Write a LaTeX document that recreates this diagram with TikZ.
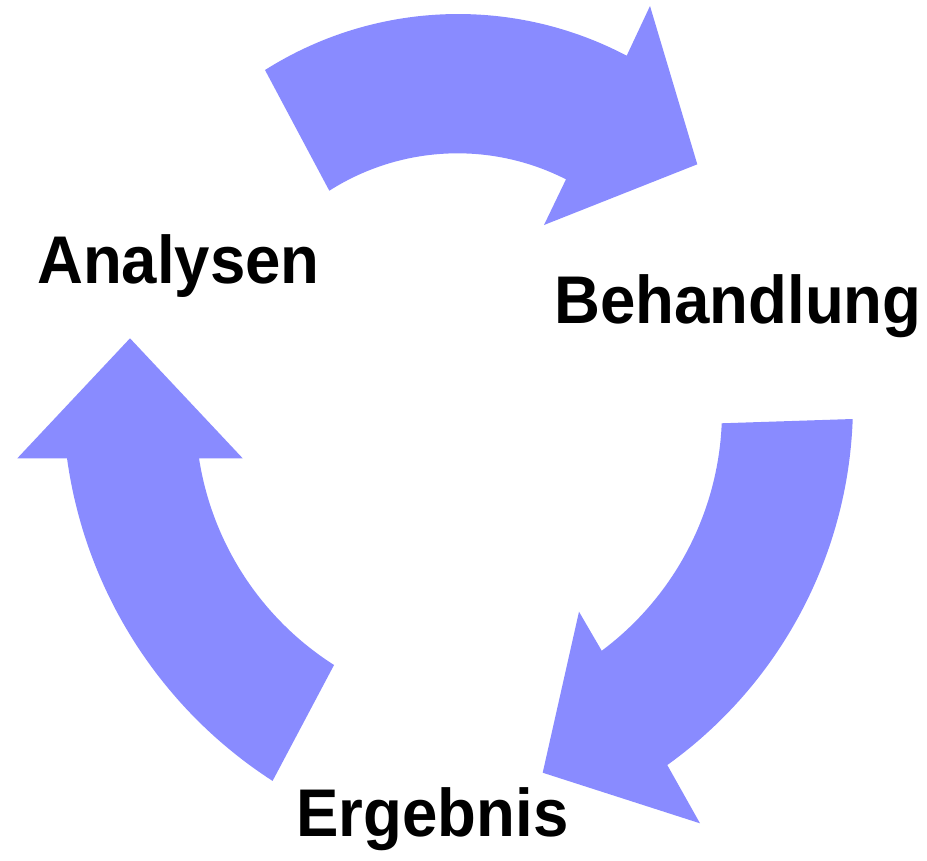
\documentclass[tikz,border=0pt]{standalone}
\usepackage{fontspec}
\usepackage{graphicx}
\setmainfont{Liberation Sans}
\definecolor{cyclefill}{RGB}{137,139,255}
\tikzset{
  cyclearrow/.style={fill=cyclefill, draw=none},
  steplabel/.style={anchor=base, inner sep=0pt, font=\fontsize{38.4}{46}\selectfont\bfseries}
}
\newcommand{\widelabel}[1]{\scalebox{0.942}[1]{#1}}
\begin{document}
% one unit = one pixel, y axis pointing down
\begin{tikzpicture}[x=0.02cm, y=-0.02cm]
  \useasboundingbox (0,0) rectangle (927,860);

  % top arrow: Analysen -> Behandlung
  \fill[cyclearrow] (265,70)
    -- plot[domain=-122.33:-62.2, samples=60, variable=\t]
         ({458.2+361.3*cos(\t)},{375.3+361.3*sin(\t)})
    -- (650,6) -- (697.3,164.3) -- (544,225) -- (566,179.3)
    -- plot[domain=-63.0:-122.5, samples=60, variable=\t]
         ({457.6+238.8*cos(\t)},{392.1+238.8*sin(\t)})
    -- cycle;

  % right arrow: Behandlung -> Ergebnis
  \fill[cyclearrow] (852.7,419)
    -- plot[domain=2.01:54.36, samples=60, variable=\t]
         ({408+445*cos(\t)},{403.4+445*sin(\t)})
    -- (700,823.3) -- (542.7,772.7) -- (579,611.7) -- (601.7,650.7)
    -- plot[domain=53.27:2.37, samples=60, variable=\t]
         ({422.7+299.3*cos(\t)},{410.9+299.3*sin(\t)})
    -- cycle;

  % left arrow: Ergebnis -> Analysen
  \fill[cyclearrow] (272.7,780.7)
    -- plot[domain=122.84:172.15, samples=60, variable=\t]
         ({521.2+458.5*cos(\t)},{395.7+458.5*sin(\t)})
    -- (17.3,458.3) -- (130,338.3) -- (242.7,458.3) -- (199,458.3)
    -- plot[domain=171.21:122.48, samples=60, variable=\t]
         ({494.7+299.2*cos(\t)},{412.6+299.2*sin(\t)})
    -- cycle;

  % step labels
  \node[steplabel] (analysen)   at (178.5,283.3) {\widelabel{Analysen}};
  \node[steplabel] (behandlung) at (738,323.3)   {\widelabel{Behandlung}};
  \node[steplabel] (ergebnis)   at (432.5,836.7) {\widelabel{Ergebnis}};
\end{tikzpicture}
\end{document}
